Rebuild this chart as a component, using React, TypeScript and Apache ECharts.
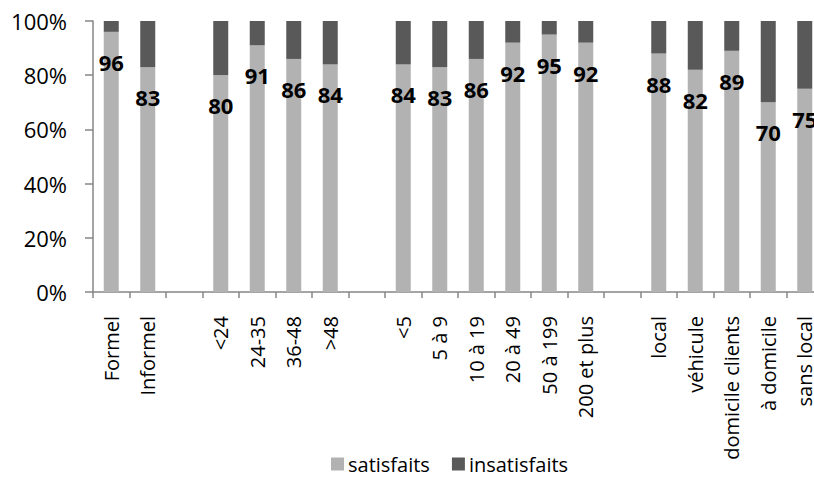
import React, { useEffect, useRef } from "react";
import * as echarts from "echarts";

const categories = [
  "Formel", "Informel", "",
  "<24", "24-35", "36-48", ">48", "",
  "<5", "5 à 9", "10 à 19", "20 à 49", "50 à 199", "200 et plus", "",
  "local", "véhicule", "domicile clients", "à domicile", "sans local",
];

const satisfaits: (number | null)[] = [
  96, 83, null,
  80, 91, 86, 84, null,
  84, 83, 86, 92, 95, 92, null,
  88, 82, 89, 70, 75,
];

const insatisfaits: (number | null)[] = [
  4, 17, null,
  20, 9, 14, 16, null,
  16, 17, 14, 8, 5, 8, null,
  12, 18, 11, 30, 25,
];

const yTicks = [0, 20, 40, 60, 80, 100];

const FONT = "'Open Sans', sans-serif";

export default function App() {
  const ref = useRef<HTMLDivElement>(null);
  useEffect(() => {
    if (!ref.current) return;
    const chart = echarts.init(ref.current, null, { renderer: "svg" });
    chart.setOption({
      animation: false,
      textStyle: { fontFamily: FONT },
      grid: {
        left: 93,
        width: 730,
        top: 21,
        height: 271,
        containLabel: false,
        outerBoundsMode: "none",
      },
      legend: {
        left: 326,
        top: 449,
        itemWidth: 13,
        itemHeight: 13,
        itemGap: 22,
        icon: "rect",
        textStyle: { fontFamily: FONT, fontSize: 20, color: "#000", padding: [0, 0, 0, -1] },
        data: ["satisfaits", "insatisfaits"],
      },
      xAxis: {
        type: "category",
        data: categories,
        axisLine: { lineStyle: { color: "#868686", width: 1.5 } },
        axisTick: { show: true, interval: 0, length: 6, lineStyle: { color: "#868686", width: 1.5 } },
        axisLabel: {
          interval: 0,
          rotate: 90,
          fontFamily: FONT,
          fontSize: 20,
          color: "#000",
          margin: 24,
        },
      },
      yAxis: {
        type: "value",
        min: yTicks[0],
        max: yTicks[yTicks.length - 1],
        interval: 20,
        splitLine: { show: false },
        axisLine: { show: true, lineStyle: { color: "#868686", width: 1.5 } },
        axisTick: { show: true, length: 8, lineStyle: { color: "#868686", width: 1.5 } },
        axisLabel: {
          fontFamily: FONT,
          fontSize: 22,
          color: "#000",
          margin: 26,
          formatter: "{value}%",
        },
      },
      series: [
        {
          name: "satisfaits",
          type: "bar",
          stack: "s",
          barWidth: 15,
          data: satisfaits,
          itemStyle: { color: "#b2b2b2" },
          label: {
            show: true,
            position: "insideTop",
            distance: 19,
            fontFamily: FONT,
            fontSize: 22,
            fontWeight: "bold",
            color: "#000",
          },
        },
        {
          name: "insatisfaits",
          type: "bar",
          stack: "s",
          barWidth: 15,
          data: insatisfaits,
          itemStyle: { color: "#595959" },
        },
      ],
    });
    return () => chart.dispose();
  }, []);
  return <div ref={ref} style={{ width: 814, height: 478, position: "absolute", left: 0, top: 0, overflow: "hidden" }} />;
}
